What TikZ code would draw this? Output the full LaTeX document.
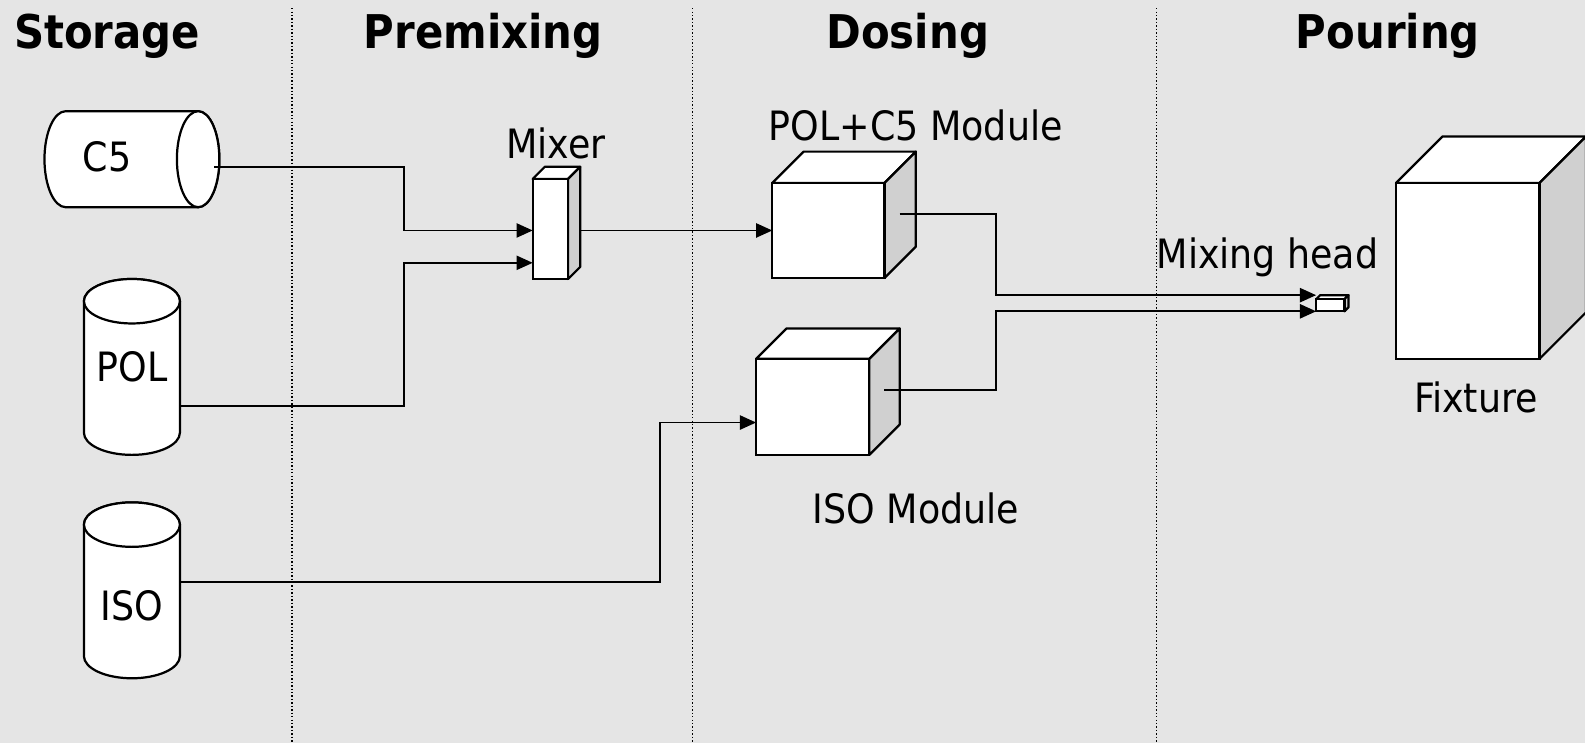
\documentclass[tikz,border=0pt]{standalone}
\usepackage{fontspec}
\setmainfont{DejaVu Sans Condensed}[BoldFont={DejaVu Sans Condensed Bold}]
\usetikzlibrary{arrows.meta}
\definecolor{bg}{RGB}{229,229,229}
\definecolor{sideg}{RGB}{208,208,208}
\tikzset{
  title/.style={font=\fontsize{46}{50}\selectfont\bfseries, anchor=base},
  lbl/.style={font=\fontsize{40}{44}\selectfont, anchor=base},
  sep/.style={dotted, line width=1.4pt},
  shp/.style={draw=black, line width=2.2pt, fill=white},
  side/.style={draw=black, line width=2.2pt, fill=sideg, line join=round},
  arr/.style={line width=1.9pt, -{Triangle[length=16pt,width=14pt]}},
}
\newcommand{\cube}[5]{% x1,y1,x2,y2,d
  \draw[shp,line join=round] (#1,#2) -- ({#1+#5},{#2-#5}) -- ({#3+#5},{#2-#5}) -- (#3,#2) -- cycle;
  \draw[side] (#3,#2) -- ({#3+#5},{#2-#5}) -- ({#3+#5},{#4-#5}) -- (#3,#4) -- cycle;
  \draw[shp] (#1,#2) rectangle (#3,#4);
}
\begin{document}
\begin{tikzpicture}[x=1pt,y=-1pt]
\fill[bg] (0,0) rectangle (1568,735);
\useasboundingbox (0,0) rectangle (1568,735);
% separators
\draw[sep] (289,8) -- (289,735);
\draw[sep] (685,8) -- (685,735);
\draw[sep] (1144,8) -- (1144,735);
% titles
\node[title] (tstorage) at (106,48) {Storage};
\node[title] (tpremix) at (478,48) {Premixing};
\node[title] (tdosing) at (898,48) {Dosing};
\node[title] (tpouring) at (1373,48) {Pouring};
% C5 horizontal cylinder
\draw[shp] (196,110) -- (65,110) arc[start angle=270,end angle=90,x radius=21,y radius=47.5] -- (196,205) arc[start angle=90,end angle=-90,x radius=21,y radius=47.5] -- cycle;
\draw[shp] (196,157.5) ellipse [x radius=21,y radius=47.5];
\node[lbl] (c5) at (106,170) {C5};
\coordinate (c5out) at (212,165);
% POL cylinder
\draw[shp] (83,298) -- (83,428) arc[start angle=180,end angle=0,x radius=47.5,y radius=22] -- (178,298) arc[start angle=0,end angle=-180,x radius=47.5,y radius=22] -- cycle;
\draw[shp] (130.5,298) ellipse [x radius=47.5,y radius=22];
\node[lbl] (pol) at (130.5,377) {POL};
\coordinate (polout) at (178,402);
% ISO cylinder
\draw[shp] (83,519) -- (83,649) arc[start angle=180,end angle=0,x radius=47.5,y radius=22] -- (178,519) arc[start angle=0,end angle=-180,x radius=47.5,y radius=22] -- cycle;
\draw[shp] (130.5,519) ellipse [x radius=47.5,y radius=22];
\node[lbl] (iso) at (130.5,614) {ISO};
\coordinate (isoout) at (178,576);
% Mixer
\cube{527}{177}{562}{276}{12}
\node[lbl] (mixerlbl) at (550,157) {Mixer};
\coordinate (mixin1) at (527,228);
\coordinate (mixin2) at (527,260);
\coordinate (mixout) at (574,228);
% POL+C5 module
\cube{764}{181}{875}{275}{31}
\node[lbl] (polc5lbl) at (906,139) {POL+C5 Module};
\coordinate (pcin) at (764,228);
\coordinate (pcout) at (890,212);
% ISO module
\cube{748}{355}{860}{450}{30}
\node[lbl] (isomodlbl) at (906,518) {ISO Module};
\coordinate (imin) at (748,418);
\coordinate (imout) at (875,386);
% Mixing head
\cube{1302}{296}{1330}{308}{4}
\node[lbl] (mhlbl) at (1254,266) {Mixing head};
\coordinate (mhin1) at (1302,292);
\coordinate (mhin2) at (1302,308);
% Fixture
\cube{1381}{181}{1523}{355}{46}
\node[lbl] (fixlbl) at (1460,408) {Fixture};
% connectors
\draw[arr] (c5out) -| (400,228) -- (mixin1);
\draw[arr] (polout) -| (400,260) -- (mixin2);
\draw[arr] (mixout) -- (pcin);
\draw[arr] (isoout) -| (653,418) -- (imin);
\draw[arr] (pcout) -| (985,292) -- (mhin1);
\draw[arr] (imout) -| (985,308) -- (mhin2);
\end{tikzpicture}
\end{document}
